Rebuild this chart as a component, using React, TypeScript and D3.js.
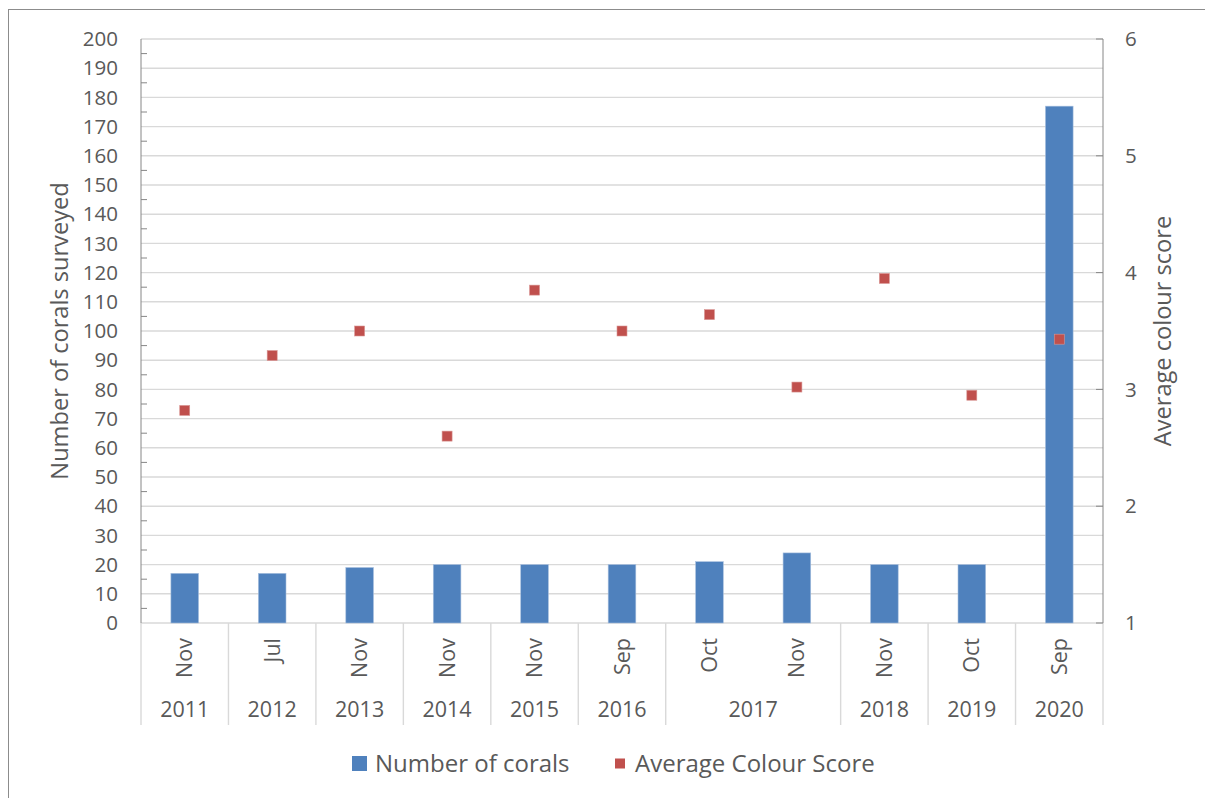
import React from "react";
import * as d3 from "d3";

const months = ["Nov", "Jul", "Nov", "Nov", "Nov", "Sep", "Oct", "Nov", "Nov", "Oct", "Sep"];
const years = ["2011", "2012", "2013", "2014", "2015", "2016", "2017", "2017", "2018", "2019", "2020"];
const coralCounts = [17, 17, 19, 20, 20, 20, 21, 24, 20, 20, 177];
const colourScores = [2.82, 3.29, 3.5, 2.6, 3.85, 3.5, 3.64, 3.02, 3.95, 2.95, 3.43];
const leftTicks = d3.range(0, 201, 10);
const leftMinor = d3.range(5, 200, 10);
const rightTicks = [1, 2, 3, 4, 5, 6];

const W = 1205;
const H = 798;
const PL = 141;
const PR = 1103;
const PT = 39;
const PB = 623;
const FONT = "'Open Sans', sans-serif";
const TXT = "#595959";
const BAR = "#4f81bd";
const MARK = "#c0504d";
const GRID = "#d9d9d9";
const AXIS = "#868686";

export default function App() {
  const idx = months.map((_, i) => i);
  const x = d3.scaleBand<number>().domain(idx).range([PL, PR]).paddingInner(0.684).paddingOuter(0.342);
  const step = x.step();
  const yL = d3.scaleLinear().domain([0, 200]).range([PB, PT]);
  const yR = d3.scaleLinear().domain([1, 6]).range([PB, PT]);

  const groups: { year: string; start: number; end: number }[] = [];
  years.forEach((y, i) => {
    const g = groups[groups.length - 1];
    if (g && g.year === y) g.end = i;
    else groups.push({ year: y, start: i, end: i });
  });
  const catLeft = (i: number) => PL + i * step;
  const dividers = groups.map((g) => catLeft(g.start)).concat([PR]);

  return (
    <svg
      width={W}
      height={H}
      style={{ position: "fixed", left: 0, top: 0, background: "#fff" }}
      fontFamily={FONT}
    >
      <rect x={8.5} y={9.5} width={W} height={H} fill="#fff" stroke="#8c8c8c" strokeWidth={1} />
      {leftTicks.map((t) => (
        <line key={"g" + t} x1={PL} x2={PR} y1={yL(t)} y2={yL(t)} stroke={GRID} strokeWidth={1.4} />
      ))}
      {dividers.map((d, i) => (
        <line key={"d" + i} x1={d} x2={d} y1={PB} y2={725} stroke={GRID} strokeWidth={1.4} />
      ))}
      <line x1={PL} x2={PL} y1={PT} y2={PB} stroke={AXIS} strokeWidth={1} />
      {leftMinor.map((t) => (
        <line key={"m" + t} x1={PL} x2={PL + 6} y1={yL(t)} y2={yL(t)} stroke={AXIS} strokeWidth={1} />
      ))}
      {leftTicks.map((t) => (
        <text key={"l" + t} x={118} y={yL(t)} dy="0.35em" textAnchor="end" fontSize={20.5} fill={TXT}>
          {t}
        </text>
      ))}
      <line x1={PR} x2={PR} y1={PT} y2={PB} stroke={AXIS} strokeWidth={1} />
      {rightTicks.map((t) => (
        <g key={"r" + t}>
          <line x1={PR - 7} x2={PR} y1={yR(t)} y2={yR(t)} stroke={AXIS} strokeWidth={1} />
          <text x={1125} y={yR(t)} dy="0.35em" textAnchor="start" fontSize={20.5} fill={TXT}>
            {t}
          </text>
        </g>
      ))}
      {coralCounts.map((v, i) => (
        <rect
          key={"b" + i}
          x={x(i)!}
          y={yL(v)}
          width={x.bandwidth()}
          height={PB - yL(v)}
          fill={BAR}
          stroke="#a7bfde"
          strokeWidth={0.6}
        />
      ))}
      {colourScores.map((v, i) => (
        <rect
          key={"s" + i}
          x={x(i)! + x.bandwidth() / 2 - 5}
          y={yR(v) - 5}
          width={10}
          height={10}
          fill={MARK}
          stroke="#d99694"
          strokeWidth={0.6}
        />
      ))}
      {months.map((m, i) => {
        const cx = x(i)! + x.bandwidth() / 2;
        return (
          <text
            key={"mo" + i}
            transform={`translate(${cx},638) rotate(-90)`}
            dy="0.35em"
            textAnchor="end"
            fontSize={21.5}
            fill={TXT}
          >
            {m}
          </text>
        );
      })}
      {groups.map((g) => (
        <text
          key={"y" + g.year}
          x={(catLeft(g.start) + catLeft(g.end + 1)) / 2}
          y={717}
          textAnchor="middle"
          fontSize={21.5}
          fill={TXT}
        >
          {g.year}
        </text>
      ))}
      <text
        transform={`translate(60,${(PT + PB) / 2}) rotate(-90)`}
        dy="0.35em"
        textAnchor="middle"
        fontSize={23.6}
        fill={TXT}
      >
        Number of corals surveyed
      </text>
      <text
        transform={`translate(1163,${(PT + PB) / 2}) rotate(-90)`}
        dy="0.35em"
        textAnchor="middle"
        fontSize={23.6}
        fill={TXT}
      >
        Average colour score
      </text>
      <rect x={352} y={756} width={15} height={15} fill={BAR} />
      <text x={375} y={772} fontSize={24} fill={TXT}>
        Number of corals
      </text>
      <rect x={615} y={758.5} width={10} height={10} fill={MARK} />
      <text x={635} y={772} fontSize={24} fill={TXT}>
        Average Colour Score
      </text>
    </svg>
  );
}
